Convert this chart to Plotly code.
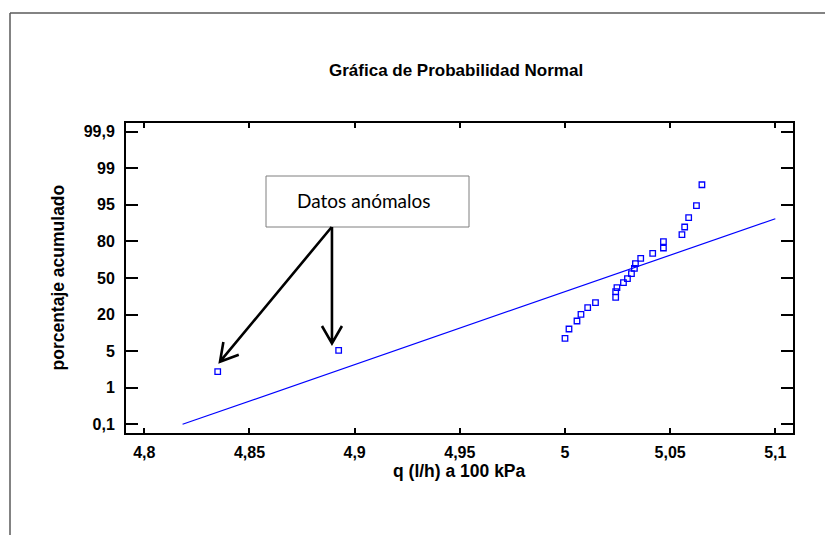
import math
from statistics import NormalDist

import numpy as np
import plotly.graph_objects as go

# Caudal medido q (l/h) a 100 kPa y su porcentaje acumulado
caudal = [4.8349, 4.8924, 5.0000, 5.0019, 5.0057, 5.0076, 5.0108, 5.0145,
          5.0241, 5.0241, 5.0247, 5.0278, 5.0297, 5.0316, 5.0330, 5.0335,
          5.0360, 5.0417, 5.0468, 5.0468, 5.0556, 5.0569, 5.0588, 5.0625,
          5.0651]
porcentaje = [2.13, 5.19, 8.64, 12.34, 16.28, 20.19, 24.72, 28.50,
              32.84, 37.62, 41.18, 45.71, 49.36, 53.95, 58.82, 62.90,
              67.49, 71.50, 75.49, 79.83, 83.89, 87.66, 91.36, 94.81,
              97.83]

# Recta de ajuste de la distribución normal (extremos)
recta_x = [4.8182, 5.1]
recta_pct = [0.1, 91.0]

# Escala de probabilidad normal
ticks_pct = [0.1, 1, 5, 20, 50, 80, 95, 99, 99.9]
ticks_txt = ["0,1", "1", "5", "20", "50", "80", "95", "99", "99,9"]
ticks_x = [4.8, 4.85, 4.9, 4.95, 5.0, 5.05, 5.1]

nd = NormalDist()
ticks_z = [nd.inv_cdf(p / 100) for p in ticks_pct]
ticks_pos = list(range(len(ticks_pct)))


def escala(pct):
    z = [nd.inv_cdf(p / 100) for p in pct]
    return list(np.interp(z, ticks_z, ticks_pos))


# Geometría de la figura (px)
W, H = 825, 535
L, R, T, B = 126, 793, 123, 433
X_RANGE = [4.7913, 5.1084]
Y_RANGE = [-0.238, 8.238]


def px(x):
    return (x - L) / (R - L)


def py(y):
    return (B - y) / (B - T)


def dato_a_px(x, pos):
    xx = L + (x - X_RANGE[0]) / (X_RANGE[1] - X_RANGE[0]) * (R - L)
    yy = B - (pos - Y_RANGE[0]) / (Y_RANGE[1] - Y_RANGE[0]) * (B - T)
    return xx, yy


AZUL = "#0000ff"
FUENTE = "Liberation Sans, Arial, sans-serif"

fig = go.Figure()
fig.add_trace(go.Scatter(
    x=recta_x, y=escala(recta_pct), mode="lines",
    line=dict(color=AZUL, width=1.2), hoverinfo="skip", showlegend=False,
))
fig.add_trace(go.Scatter(
    x=caudal, y=escala(porcentaje), mode="markers",
    marker=dict(symbol="square-open", size=5.5, color=AZUL,
                line=dict(color=AZUL, width=1.3)),
    showlegend=False,
))

eje = dict(showline=True, linecolor="black", linewidth=2, mirror="allticks",
           ticks="inside", tickcolor="black", tickwidth=1.5,
           showgrid=False, zeroline=False,
           tickfont=dict(family=FUENTE, size=16, color="black", weight="bold"))

fig.update_xaxes(range=X_RANGE, tickvals=ticks_x, ticklen=5,
                 ticklabelstandoff=4, **eje)
fig.update_yaxes(range=Y_RANGE, tickvals=ticks_pos, ticktext=ticks_txt,
                 ticklen=12, ticklabelstandoff=6, **eje)

shapes = []
# Marco exterior (superior e izquierdo)
gris = "#5a5a5a"
shapes.append(dict(type="line", xref="paper", yref="paper",
                   x0=px(10), y0=py(13), x1=px(W + 5), y1=py(13),
                   line=dict(color=gris, width=1.5)))
shapes.append(dict(type="line", xref="paper", yref="paper",
                   x0=px(10), y0=py(13), x1=px(10), y1=py(H + 5),
                   line=dict(color=gris, width=1.5)))

# Cuadro de texto
caja = (266, 176, 469, 227)
shapes.append(dict(type="rect", xref="paper", yref="paper",
                   x0=px(caja[0]), y0=py(caja[1]), x1=px(caja[2]), y1=py(caja[3]),
                   line=dict(color="#7f7f7f", width=1), fillcolor="white"))

# Flechas hacia los datos anómalos
origen = (331.7, caja[3])
pos_anom = escala(porcentaje[:2])
o1 = dato_a_px(caudal[0], pos_anom[0])
o2 = dato_a_px(caudal[1], pos_anom[1])
puntas = [(o1[0] + 2.3, o1[1] - 10), (o2[0] - 6.7, o2[1] - 7)]
for i, (tx, ty) in enumerate(puntas):
    sx = origen[0] if i == 0 else tx
    sy = origen[1]
    dx, dy = sx - tx, sy - ty
    n = math.hypot(dx, dy)
    ux, uy = dx / n, dy / n
    brazos = []
    for ang in (math.radians(30), -math.radians(30)):
        bx = ux * math.cos(ang) - uy * math.sin(ang)
        by = ux * math.sin(ang) + uy * math.cos(ang)
        brazos.append((tx + 20 * bx, ty + 20 * by))
    trazo = (f"M {px(sx)},{py(sy)} L {px(tx)},{py(ty)} "
             f"M {px(brazos[0][0])},{py(brazos[0][1])} L {px(tx)},{py(ty)} "
             f"L {px(brazos[1][0])},{py(brazos[1][1])}")
    shapes.append(dict(type="path", xref="paper", yref="paper", path=trazo,
                       line=dict(color="black", width=2.6)))

anotaciones = [
    dict(text="Gráfica de Probabilidad Normal", x=px(456), y=py(70),
         font=dict(family=FUENTE, size=17, color="black", weight="bold")),
    dict(text="q (l/h) a 100 kPa", x=px(459), y=py(471),
         font=dict(family=FUENTE, size=17.5, color="black", weight="bold")),
    dict(text="porcentaje acumulado", x=px(57.5), y=py(278), textangle=-90,
         font=dict(family=FUENTE, size=17.5, color="black", weight="bold")),
    dict(text="Datos anómalos", x=px(363.5), y=py(200),
         font=dict(family="Lato, Carlito, sans-serif", size=19, color="black")),
]
for a in anotaciones:
    a.update(xref="paper", yref="paper", showarrow=False,
             xanchor="center", yanchor="middle")

fig.update_layout(
    width=W, height=H,
    margin=dict(l=L, r=W - R, t=T, b=H - B),
    paper_bgcolor="white", plot_bgcolor="white",
    separators=",.",
    shapes=shapes, annotations=anotaciones,
)

fig.write_html("out.html")
